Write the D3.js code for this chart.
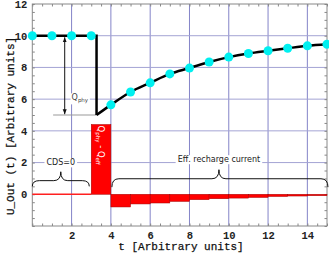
<!DOCTYPE html>
<html>
<head>
<meta charset="utf-8">
<script src="https://cdn.jsdelivr.net/npm/d3@7"></script>
<style>
  body { margin: 0; background: #fff; }
  svg { display: block; }
</style>
</head>
<body>
<div id="chart"></div>
<script>
// values
const dotT = [0, 1, 2, 3, 4, 5, 6, 7, 8, 9, 10, 11, 12, 13, 14, 15];
const dotU = [10, 10, 10, 10, 5.64, 6.45, 7.03, 7.59, 7.96, 8.34, 8.65, 8.88, 9.05, 9.21, 9.36, 9.46];
// black line: flat part and drop
const dropT = [0, 3.27, 3.27];
const dropU = [10, 10, 5];
// then recovery through the dots
const recT = [3.27, 4, 5, 6, 7, 8, 9, 10, 11, 12, 13, 14, 15];
const recU = [5, 5.64, 6.45, 7.03, 7.59, 7.96, 8.34, 8.65, 8.88, 9.05, 9.21, 9.36, 9.46];
// red current bars, one per time step
const barStart = [3, 4, 5, 6, 7, 8, 9, 10, 11, 12, 13, 14];
const barValue = [4.4, -0.8, -0.61, -0.55, -0.45, -0.34, -0.28, -0.24, -0.2, -0.14, -0.11, -0.09];
const xTicks = [2, 4, 6, 8, 10, 12, 14];
const yTicks = [0, 2, 4, 6, 8, 10, 12];

const W = 329, H = 256;
const svg = d3.select("#chart").append("svg").attr("width", W).attr("height", H);

const x = d3.scaleLinear().domain([0, 15]).range([32.3, 327]);
const y = d3.scaleLinear().domain([-2, 12]).range([226, 4]);

const minorX = d3.range(0, 15.01, 0.5);
const minorY = d3.range(-2, 12.01, 0.5);

// grid
svg.append("g").selectAll("line").data(xTicks).join("line")
  .attr("x1", d => x(d)).attr("x2", d => x(d)).attr("y1", y(-2)).attr("y2", y(12))
  .attr("stroke", "#8484c8").attr("stroke-width", 1);
svg.append("g").selectAll("line").data([2, 4, 6, 8, 10]).join("line")
  .attr("x1", x(0)).attr("x2", x(15)).attr("y1", d => y(d)).attr("y2", d => y(d))
  .attr("stroke", "#a4a4d4").attr("stroke-width", 1);

// frame ticks
function ticksOnly(axis, tr) {
  const g = svg.append("g").attr("transform", tr).call(axis);
  g.select(".domain").remove();
  g.selectAll("line").attr("stroke", "#888");
  g.selectAll("text").remove();
}
ticksOnly(d3.axisBottom(x).tickValues(minorX).tickSize(-2.5), `translate(0,${y(-2)})`);
ticksOnly(d3.axisTop(x).tickValues(minorX).tickSize(-2.5), `translate(0,${y(12)})`);
ticksOnly(d3.axisLeft(y).tickValues(minorY).tickSize(-2.5), `translate(${x(0)},0)`);
ticksOnly(d3.axisRight(y).tickValues(minorY).tickSize(-2.5), `translate(${x(15)},0)`);

svg.append("rect")
  .attr("x", x(0)).attr("y", y(12)).attr("width", x(15) - x(0)).attr("height", y(-2) - y(12))
  .attr("fill", "none").attr("stroke", "#888").attr("stroke-width", 1);

// tick labels
const lblFont = "'Liberation Mono', 'DejaVu Sans Mono', monospace";
svg.append("g").attr("transform", `translate(0,${y(-2)})`)
  .call(d3.axisBottom(x).tickValues(xTicks).tickSize(0).tickPadding(6))
  .call(g => g.select(".domain").remove())
  .selectAll("text").attr("font-family", lblFont).attr("font-weight", "bold")
  .attr("font-size", 10.5).attr("fill", "#222");
svg.append("g").attr("transform", `translate(${x(0)},0)`)
  .call(d3.axisLeft(y).tickValues(yTicks).tickSize(0).tickPadding(5))
  .call(g => g.select(".domain").remove())
  .selectAll("text").attr("font-family", lblFont).attr("font-weight", "bold")
  .attr("font-size", 10.5).attr("fill", "#222");

// axis titles
svg.append("text").attr("x", 181).attr("y", 250).attr("text-anchor", "middle")
  .attr("font-family", lblFont).attr("font-size", 11).attr("fill", "#111")
  .attr("stroke", "#111").attr("stroke-width", 0.25)
  .text("t [Arbitrary units]");
svg.append("text").attr("transform", "translate(14,126) rotate(-90)").attr("text-anchor", "middle")
  .attr("font-family", lblFont).attr("font-size", 11).attr("fill", "#111")
  .attr("stroke", "#111").attr("stroke-width", 0.25)
  .text("U_Out (t) [Arbitrary units]");

// red zero line before the discharge
svg.append("line").attr("x1", x(0)).attr("x2", x(3)).attr("y1", y(0)).attr("y2", y(0))
  .attr("stroke", "#ff2020").attr("stroke-width", 1.5);

// bars
svg.append("g").selectAll("rect").data(barStart).join("rect")
  .attr("x", d => x(d))
  .attr("width", d => x(d + 1) - x(d))
  .attr("y", (d, i) => y(Math.max(0, barValue[i])))
  .attr("height", (d, i) => Math.abs(y(barValue[i]) - y(0)))
  .attr("fill", "#ff0000").attr("stroke", "#a00000").attr("stroke-width", 0.5);

// rotated label inside first bar
const qb = svg.append("text")
  .attr("transform", `translate(${x(3.5) - 3},${y(3.1)}) rotate(90)`)
  .attr("text-anchor", "middle").attr("font-family", "'DejaVu Sans', sans-serif")
  .attr("font-size", 8.5).attr("fill", "#fff");
qb.append("tspan").text("Q");
qb.append("tspan").attr("font-size", 5.5).attr("dy", 2).text("phy");
qb.append("tspan").attr("dy", -2).text(" - Q");
qb.append("tspan").attr("font-size", 5.5).attr("dy", 2).text("eff");

// braces
function brace(t0, t1, tm, uEnd, uLevel, uTip) {
  const x0 = x(t0), x1 = x(t1), xm = x(tm);
  const ye = y(uEnd), yl = y(uLevel), yt = y(uTip);
  const r = 7;
  return `M${x0},${ye} Q${x0},${yl} ${x0 + r},${yl} L${xm - r},${yl} Q${xm},${yl} ${xm},${yt}` +
         ` Q${xm},${yl} ${xm + r},${yl} L${x1 - r},${yl} Q${x1},${yl} ${x1},${ye}`;
}
svg.append("path").attr("d", brace(0, 2.9, 1.45, 0.5, 0.86, 1.42))
  .attr("fill", "none").attr("stroke", "#111").attr("stroke-width", 1);
svg.append("path").attr("d", brace(4.05, 15.05, 9.5, 0.45, 0.98, 1.55))
  .attr("fill", "none").attr("stroke", "#111").attr("stroke-width", 1);

function boxedLabel(tx, uy, str) {
  const g = svg.append("g");
  const t = g.append("text").attr("x", x(tx)).attr("y", y(uy)).attr("dy", "0.35em")
    .attr("text-anchor", "middle").attr("font-family", "'DejaVu Sans', sans-serif")
    .attr("font-size", 8).attr("fill", "#222").text(str);
  const b = t.node().getBBox();
  g.insert("rect", "text").attr("x", b.x - 2).attr("y", b.y).attr("width", b.width + 4)
    .attr("height", b.height).attr("fill", "#fff");
}
boxedLabel(1.45, 2.0, "CDS=0");
boxedLabel(9.5, 2.2, "Eff. recharge current");

// Q_phy annotation
svg.append("line").attr("x1", x(1.06)).attr("x2", x(3.27)).attr("y1", y(5)).attr("y2", y(5))
  .attr("stroke", "#999").attr("stroke-width", 1);
svg.append("defs").append("marker").attr("id", "ah").attr("viewBox", "0 0 10 10")
  .attr("refX", 10).attr("refY", 5).attr("markerWidth", 5).attr("markerHeight", 5)
  .attr("orient", "auto-start-reverse")
  .append("path").attr("d", "M0,1 L10,5 L0,9 Z").attr("fill", "#111");
svg.append("line").attr("x1", x(1.65)).attr("x2", x(1.65)).attr("y1", y(9.9)).attr("y2", y(5.05))
  .attr("stroke", "#111").attr("stroke-width", 1)
  .attr("marker-start", "url(#ah)").attr("marker-end", "url(#ah)");
const qg = svg.append("g");
const qt = qg.append("text").attr("x", x(2.0)).attr("y", y(6.1)).attr("dy", "0.35em")
  .attr("font-family", "'DejaVu Sans', sans-serif").attr("font-size", 8).attr("fill", "#444");
qt.append("tspan").text("Q");
qt.append("tspan").attr("font-size", 5.5).attr("dy", 2).text("phy");
const qbb = qt.node().getBBox();
qg.insert("rect", "text").attr("x", qbb.x - 1).attr("y", qbb.y).attr("width", qbb.width + 2)
  .attr("height", qbb.height).attr("fill", "#fff");

// voltage line and dots
svg.append("path").datum(dropT.map((t, i) => [t, dropU[i]]))
  .attr("d", d3.line().x(d => x(d[0])).y(d => y(d[1])))
  .attr("fill", "none").attr("stroke", "#000").attr("stroke-width", 2.5)
  .attr("stroke-linejoin", "miter");
svg.append("path").datum(recT.map((t, i) => [t, recU[i]]))
  .attr("d", d3.line().x(d => x(d[0])).y(d => y(d[1])).curve(d3.curveMonotoneX))
  .attr("fill", "none").attr("stroke", "#000").attr("stroke-width", 2.5);
svg.append("g").selectAll("circle").data(dotT).join("circle")
  .attr("cx", d => x(d)).attr("cy", (d, i) => y(dotU[i])).attr("r", 4.5)
  .attr("fill", "#00f0f0");
</script>
</body>
</html>
